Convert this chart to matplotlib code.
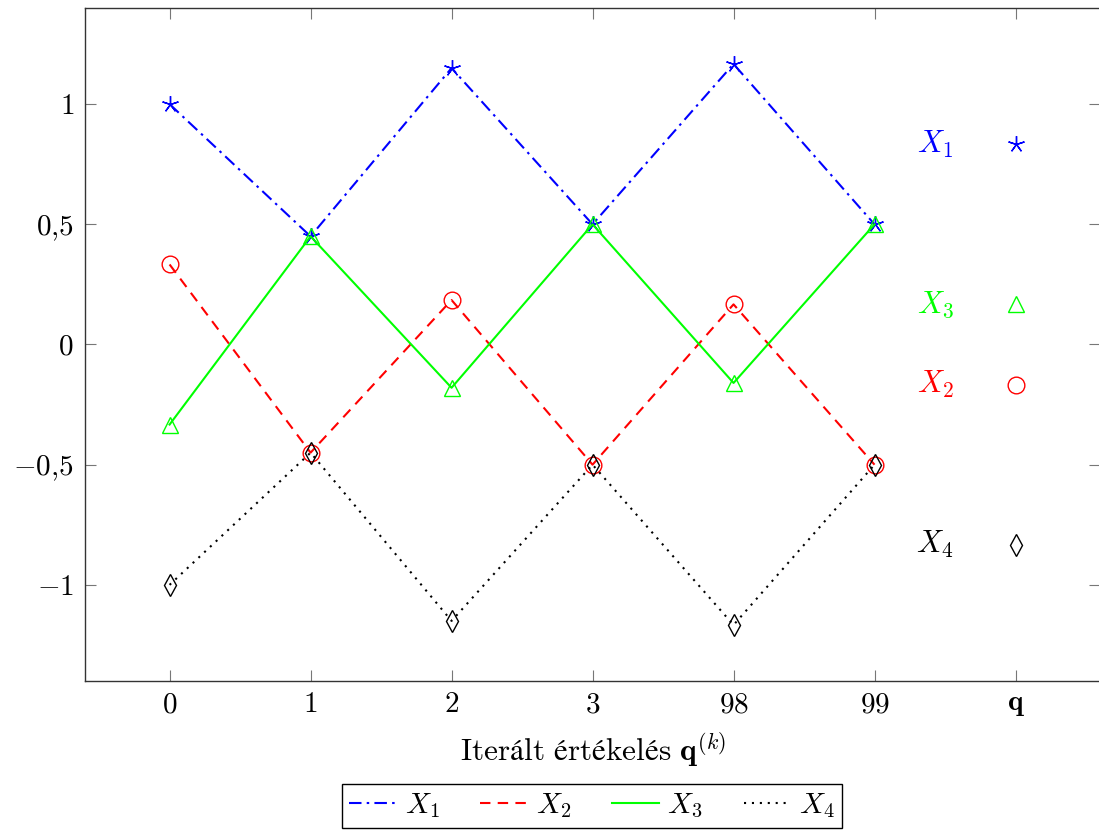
import matplotlib
matplotlib.use("Agg")
import matplotlib.pyplot as plt
from matplotlib.lines import Line2D

plt.rcParams['mathtext.fontset'] = 'cm'
plt.rcParams['font.family'] = ['cmr10', 'DejaVu Serif']
plt.rcParams['axes.unicode_minus'] = False

# ---- data ----
x_labels = ['0', '1', '2', '3', '98', '99']
x1_vals = [1.0, 0.45, 1.15, 0.5, 1.167, 0.5]
x2_vals = [0.333, -0.45, 0.185, -0.5, 0.167, -0.5]
x3_vals = [-0.333, 0.45, -0.18, 0.5, -0.16, 0.5]
x4_vals = [-1.0, -0.45, -1.15, -0.5, -1.167, -0.5]
series_names = ['$X_1$', '$X_2$', '$X_3$', '$X_4$']
side_y = [0.833, -0.167, 0.167, -0.833]   # marker legend positions (X1, X2, X3, X4)
yticks = [-1, -0.5, 0, 0.5, 1]
ytick_labels = ['$-1$', '$-0{,}5$', '$0$', '$0{,}5$', '$1$']
xlabel = '$\\mathrm{Iterált\\ értékelés}\\ \\mathbf{q}^{(k)}$'

colors = ['#0000ff', '#ff0000', '#00ff00', '#000000']
markers = [(5, 2, 0), 'o', '^', 'd']
msizes = [12, 12, 11, 11]
dashes = [(6, 2.5, 1.2, 2.5), (5, 3.5), None, (1, 2.8)]

fig = plt.figure(figsize=(10.99, 8.30), dpi=100)
ax = fig.add_axes([85/1099, 1-681/830, 1 - 85/1099 + 0.001, (681-8)/830])

xs = list(range(len(x_labels)))
all_vals = [x1_vals, x2_vals, x3_vals, x4_vals]
handles = []
for i, vals in enumerate(all_vals):
    kw = dict(color=colors[i], lw=1.5)
    ln, = ax.plot(xs, vals, marker=markers[i], ms=msizes[i], mfc='none',
                  mec=colors[i], mew=1.0, zorder=3 + i, **kw)
    if dashes[i] is not None:
        ln.set_dashes(dashes[i])
    h = Line2D([], [], color=colors[i], lw=1.5)
    if dashes[i] is not None:
        h.set_dashes(dashes[i])
    handles.append(h)
    # side marker legend
    ax.plot([6], [side_y[i]], marker=markers[i], ms=msizes[i], mfc='none',
            mec=colors[i], mew=1.0, ls='none')
    ax.text(5.43, side_y[i], series_names[i], color=colors[i], fontsize=22,
            ha='center', va='center')

ax.set_xlim(-0.6, 6.6)
ax.set_ylim(-1.4, 1.4)
ax.set_xticks(list(range(7)))
ax.set_xticklabels(['$%s$' % s for s in x_labels] + ['$\\mathbf{q}$'], fontsize=21)
ax.set_yticks(yticks)
ax.set_yticklabels(ytick_labels, fontsize=21)
ax.tick_params(direction='in', top=True, right=True, length=8, width=0.8,
               color='#777777', pad=8)
for s in ax.spines.values():
    s.set_color('#333333')
    s.set_linewidth(1.0)
ax.set_xlabel(xlabel, fontsize=22.5, labelpad=9)

fig.legend(handles, series_names, loc='upper center',
           bbox_to_anchor=(592/1099, 1 - 784/830), ncol=4, fontsize=21,
           frameon=True, fancybox=False, edgecolor='black', framealpha=1,
           handlelength=1.6, columnspacing=1.4, handletextpad=0.3,
           borderpad=0.25, borderaxespad=0)

fig.savefig('out.png', dpi=100)
